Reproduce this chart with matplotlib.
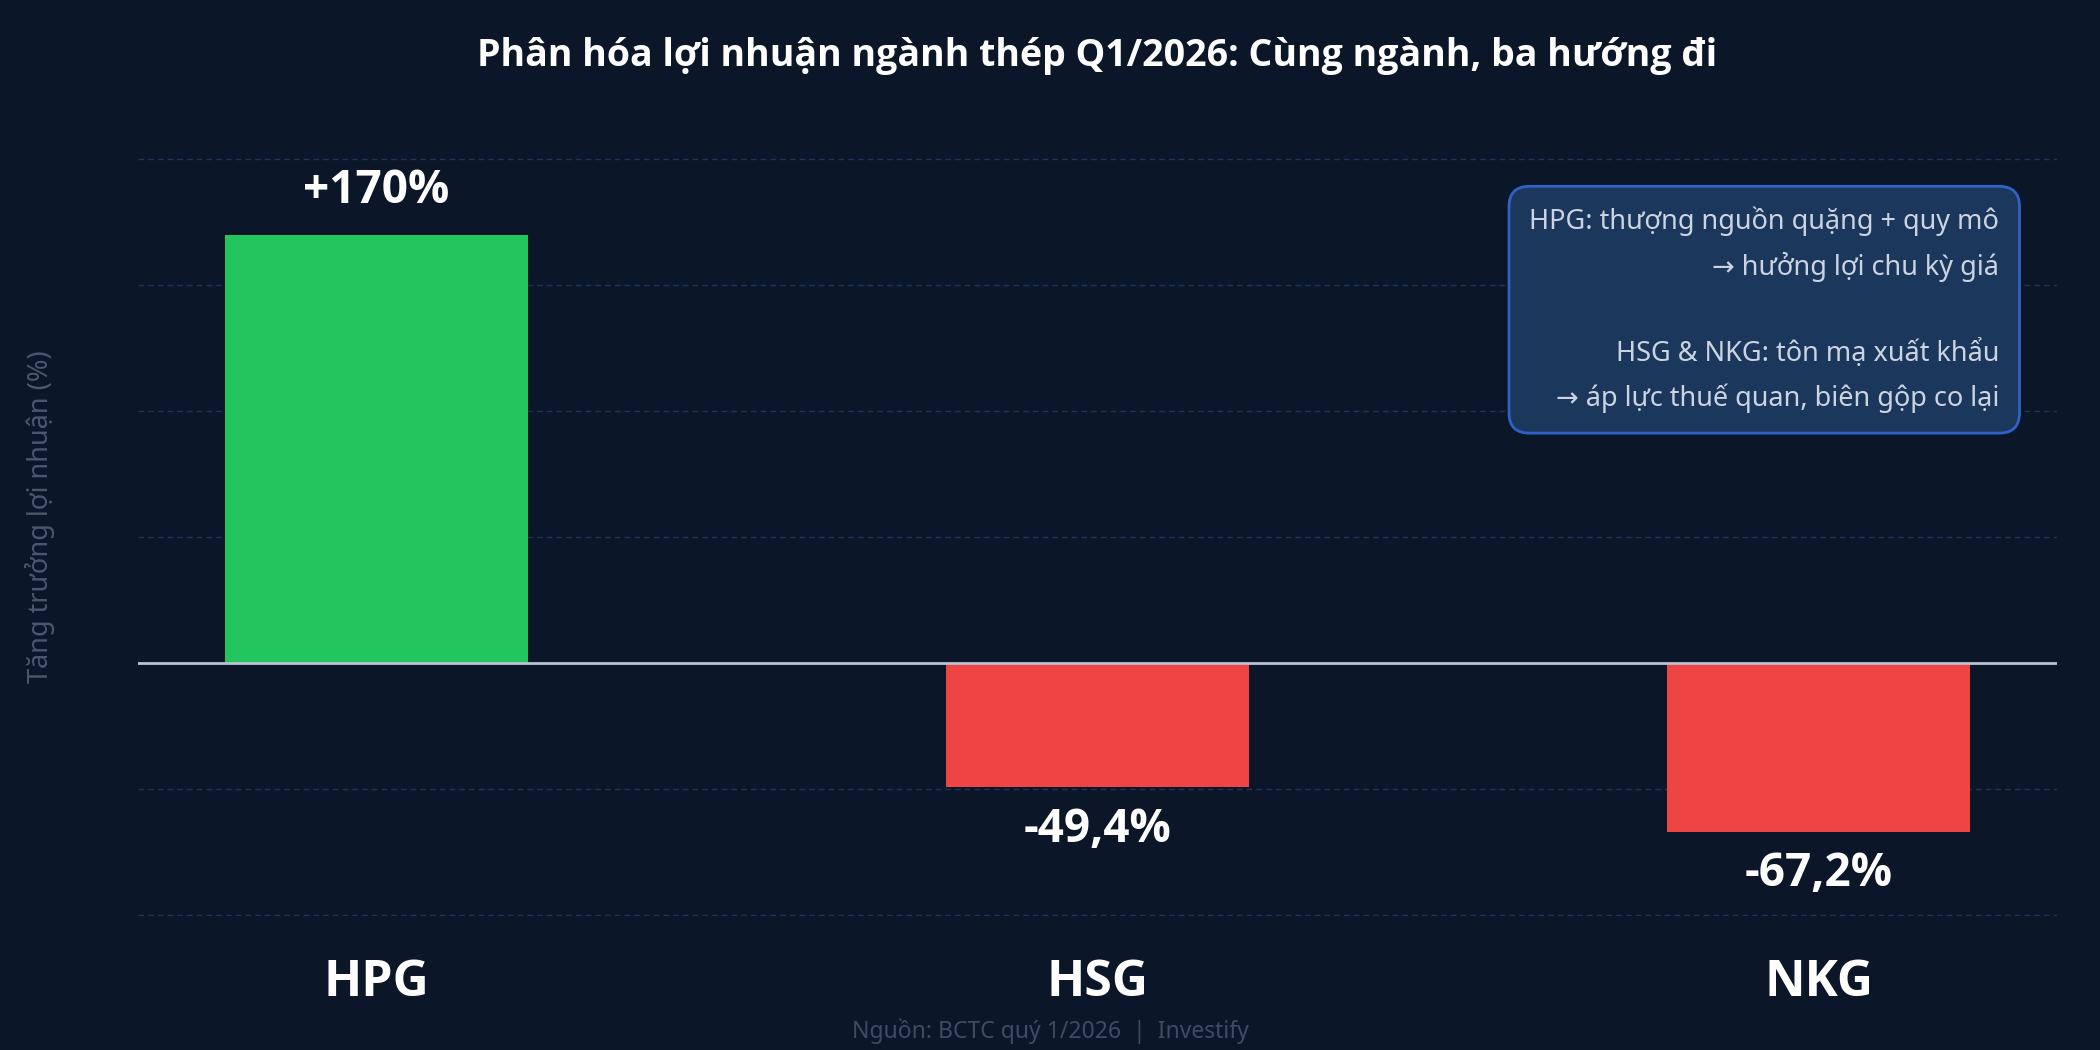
import numpy as np
import matplotlib
matplotlib.use("Agg")
import matplotlib.pyplot as plt

# data
tickers = ["HPG", "HSG", "NKG"]
growth = [170.0, -49.4, -67.2]
value_labels = ["+170%", "-49,4%", "-67,2%"]
note_lines = [
    "HPG: thượng nguồn quặng + quy mô",
    "→ hưởng lợi chu kỳ giá",
    "",
    "HSG & NKG: tôn mạ xuất khẩu",
    "→ áp lực thuế quan, biên gộp co lại",
]

plt.rcParams['font.family'] = ['Noto Sans', 'DejaVu Sans']
bold_fam = ['Open Sans', 'DejaVu Sans']

bg = '#0b1729'
green = '#22c55e'
red = '#ef4444'

fig = plt.figure(figsize=(21, 10.5), dpi=100, facecolor=bg)
ax = fig.add_axes([0.0657, 0.1276, 0.9138, 0.7219])
ax.set_facecolor(bg)

x = np.arange(len(tickers))
colors = [green if v >= 0 else red for v in growth]
ax.bar(x, growth, width=0.42, color=colors, zorder=3)

ax.set_xlim(-0.33, 2.33)
ax.set_ylim(-100.5, 200.5)
ax.set_yticks([-100, -50, 50, 100, 150, 200])
ax.yaxis.grid(True, color='#1d3558', linestyle=(0, (4, 3)), linewidth=1)
ax.axhline(0, color='#b9c3d1', linewidth=2, zorder=4)
ax.tick_params(axis='y', left=False, labelleft=False)
ax.tick_params(axis='x', bottom=False, pad=27)
ax.set_xticks(x)
ax.set_xticklabels(tickers, fontsize=36, fontweight='bold', color='white', family=bold_fam)
for s in ax.spines.values():
    s.set_visible(False)

for xi, v, lab in zip(x, growth, value_labels):
    off = 32 if v >= 0 else -30
    ax.annotate(lab, (xi, v), xytext=(0, off), textcoords='offset points',
                ha='center', va='center', fontsize=33, fontweight='bold',
                family=bold_fam, color='white', zorder=5)

fig.text(0.5226, 0.947, "Phân hóa lợi nhuận ngành thép Q1/2026: Cùng ngành, ba hướng đi",
         ha='center', va='center', fontsize=27, fontweight='bold', family=bold_fam,
         color='white')

fig.text(0.019, 0.508, "Tăng trưởng lợi nhuận (%)", rotation=90,
         ha='center', va='center', fontsize=19.5, color='#4a586d')

fig.text(0.5, 0.018, "Nguồn: BCTC quý 1/2026  |  Investify",
         ha='center', va='center', fontsize=16.5, color='#3e4c61')

fig.text(0.952, 0.705, "\n".join(note_lines), ha='right', va='center',
         fontsize=19.5, color='#cbd5e1', linespacing=1.68,
         bbox=dict(boxstyle='round,pad=0.75,rounding_size=0.75',
                   facecolor='#1c375c', edgecolor='#2f62c8', linewidth=2))

fig.savefig("out.png", dpi=100, facecolor=bg)
